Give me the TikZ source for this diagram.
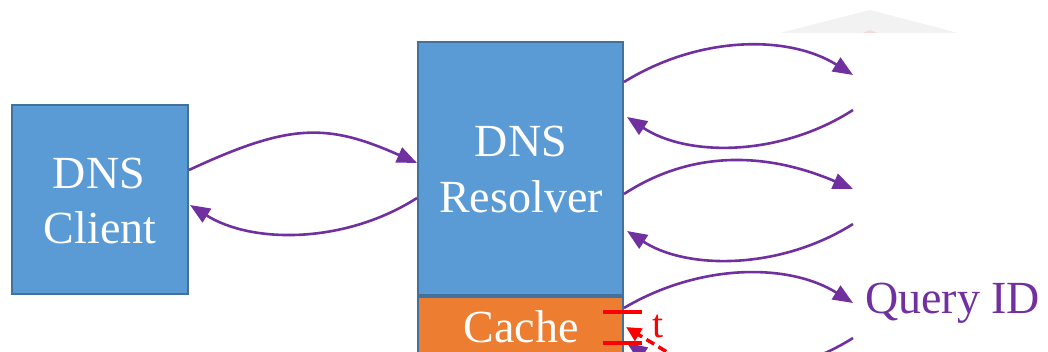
\documentclass[tikz,border=0pt]{standalone}
\usepackage{fontspec}
\setmainfont{Liberation Serif}
\newfontfamily\timesface{Liberation Serif}[Ligatures=TeX]
\usetikzlibrary{arrows.meta}
\definecolor{boxblue}{HTML}{5B9BD5}
\definecolor{boxedge}{HTML}{41719C}
\definecolor{cacheorange}{HTML}{ED7D31}
\definecolor{msgpurple}{HTML}{7030A0}
\definecolor{roofgray}{HTML}{F2F2F2}
\definecolor{roofpink}{HTML}{F6D9D9}
\tikzset{
  entity/.style={draw=boxedge, line width=2pt, fill=boxblue, inner sep=0pt, rectangle},
  cachebox/.style={draw=boxedge, line width=2pt, fill=cacheorange, inner sep=0pt, rectangle},
  boxtext/.style={text=white, font=\timesface\fontsize{46}{55}\selectfont, anchor=base, inner sep=0pt},
  msg/.style={draw=msgpurple, line width=2.6pt, -{Triangle[length=20pt,width=16pt]}},
  timebar/.style={draw=red, line width=3.5pt},
  timearrow/.style={draw=red, line width=3.5pt, dash pattern=on 9pt off 5pt, -{Triangle[length=15pt,width=14pt]}}
}
\begin{document}
\begin{tikzpicture}[x=1pt, y=-1pt]
\useasboundingbox (0,0) rectangle (1048,352);
\clip (0,0) rectangle (1048,352);

% faint roof shape in the upper right corner
\fill[roofgray] (780,33) -- (870,10) -- (958,33) -- cycle;
\fill[roofpink] (863,33) -- (870,30) -- (877,33) -- cycle;

% boxes
\node[entity, minimum width=176pt, minimum height=189pt] (client) at (100,199.5) {};
\node[entity, minimum width=205pt, minimum height=253pt] (resolver) at (520.5,168.5) {};
\node[cachebox, minimum width=205pt, minimum height=80pt, anchor=north] (cache) at (520.5,296) {};

% box labels
\node[boxtext] (clientA) at (99,189) {DNS};
\node[boxtext] (clientB) at (100,244) {Client};
\node[boxtext] (resolverA) at (521,157) {DNS};
\node[boxtext] (resolverB) at (521,213) {Resolver};
\node[boxtext] (cacheA) at (521,342) {Cache};

% free ends of the exchanges on the right
\coordinate (o1) at (853,75);
\coordinate (i1) at (853,110);
\coordinate (o2) at (853,189);
\coordinate (i2) at (853,224);
\coordinate (o3) at (853,303);
\coordinate (i3) at (853,338);

\node[text=msgpurple, font=\timesface\fontsize{46}{55}\selectfont, anchor=base west, inner sep=0pt] (qid) at (865,313) {Query ID};

% client <-> resolver
\draw[msg] (client.east |- 0,170) .. controls (290,123) and (327,123) .. (resolver.west |- 0,163);
\draw[msg] (resolver.west |- 0,198) .. controls (345,244) and (252,244) .. (190,205);

% resolver <-> outside
\draw[msg] (resolver.east |- 0,82) .. controls (700,35) and (789,35) .. (o1);
\draw[msg] (i1) .. controls (780,157) and (687,157) .. (627,117);
\draw[msg] (resolver.east |- 0,194) .. controls (690,151) and (764,151) .. (o2);
\draw[msg] (i2) .. controls (780,270) and (687,270) .. (627,231);
\draw[msg] (cache.east |- 0,308) .. controls (700,263) and (789,263) .. (o3);
\draw[msg] (i3) .. controls (780,384) and (687,384) .. (627,343);

% time window marks on the cache
\coordinate (tA1) at (603,312);
\coordinate (tA2) at (642,312);
\coordinate (tB1) at (603,343);
\coordinate (tB2) at (642,343);
\draw[timebar] (tA1) -- (tA2);
\draw[timebar] (tB1) -- (tB2);
\node[text=red, font=\timesface\fontsize{40}{48}\selectfont, anchor=base, inner sep=0pt] (tlabel) at (658,337) {t};
\coordinate (tstart) at (690,366);
\coordinate (tend) at (626,327);
\draw[timearrow] (tstart) -- (tend);
\end{tikzpicture}
\end{document}
